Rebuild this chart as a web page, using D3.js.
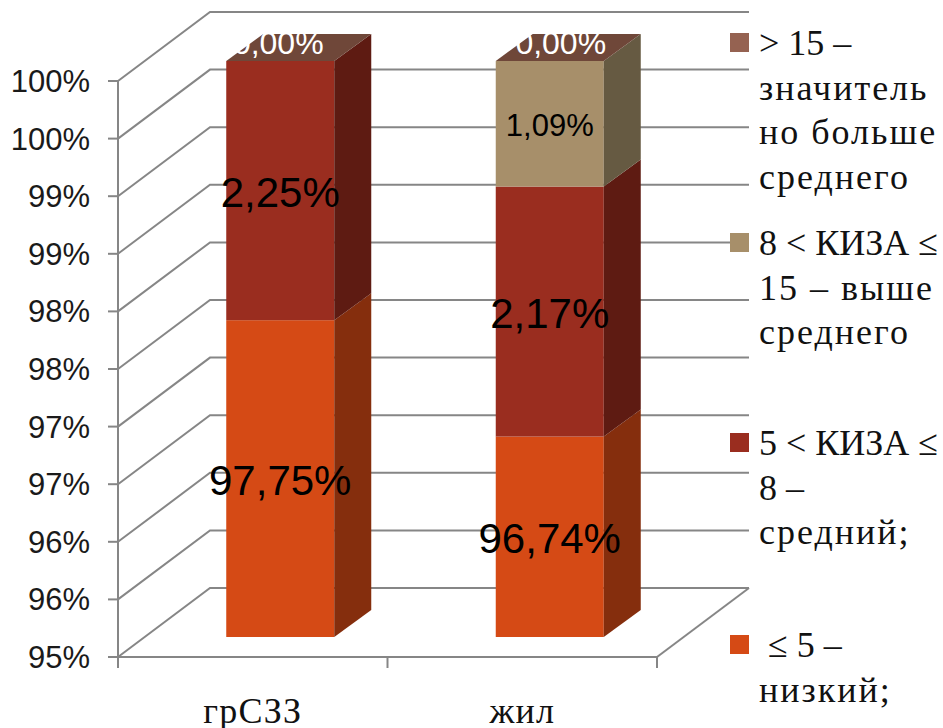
<!DOCTYPE html>
<html>
<head>
<meta charset="utf-8">
<script src="https://cdn.jsdelivr.net/npm/d3@7"></script>
<style>
  html, body { margin: 0; padding: 0; background: #fff; overflow: hidden; }
  .tick-label { font-family: "Liberation Sans", sans-serif; font-size: 31px; fill: #1a1a1a; }
  .serif { font-family: "Liberation Serif", serif; font-size: 36px; fill: #111; }
</style>
</head>
<body>
<div id="chart"></div>
<script>
// 3D stacked columns
let categories = ["грСЗЗ", "жил"];
let low = [97.75, 96.74];
let middle = [2.25, 2.17];
let high = [0, 1.09];
let veryHigh = [0, 0];

let tickValues = [95, 95.5, 96, 96.5, 97, 97.5, 98, 98.5, 99, 99.5, 100];
let tickLabels = ["95%", "96%", "96%", "97%", "97%", "98%", "98%", "99%", "99%", "100%", "100%"];

let seriesValues = [low, middle, high, veryHigh];
let seriesFront = ["#d54a15", "#9a2d1f", "#a78f6a", "#956251"];
let seriesSide = ["#852e0d", "#5e1b12", "#665a42", "#6f4739"];

// label text per series and category, "" when there is none
let barLabels = [
  ["97,75%", "96,74%"],
  ["2,25%", "2,17%"],
  ["", "1,09%"],
  ["0,00%", "0,00%"]
];

let legendLines = [
  ["> 15 –", "значитель", "но больше", "среднего"],
  ["8 < КИЗА ≤", "15 – выше", "среднего"],
  ["5 < КИЗА ≤", "8 –", "средний;"],
  [" ≤ 5 –", "низкий;"]
];

////////////////////////////////////////////////////////////////////////
// svg and scales

let width = 943;
let height = 728;

let svg = d3.select("#chart").append("svg")
  .attr("width", width).attr("height", height);

let axisLeft = 118, axisRight = 657;
let axisBottom = 657, axisTop = 81;
let wallDx = 92, wallDy = -69;     // floor depth
let barDx = 37, barDy = -27;       // bar depth
let barShiftY = -20;               // bars stand a little inside the floor

let xScale = d3.scaleBand().domain(categories).range([axisLeft, axisRight]);
let yScale = d3.scaleLinear().domain([95, 100]).range([axisBottom, axisTop]).clamp(true);
let barWidth = 108;
let zeroLabelShift = [-2, 11];     // the 0,00% labels sit off centre

function barX(i) {
  return xScale(categories[i]) + xScale.bandwidth() / 2 + 27.5 - barWidth / 2;
}
function barY(v) { return yScale(v) + barShiftY; }

////////////////////////////////////////////////////////////////////////
// walls and axis

let gridColor = "#868686";
let grid = svg.append("g").attr("fill", "none").attr("stroke", gridColor).attr("stroke-width", 2);

tickValues.forEach(function(t) {
  let y = yScale(t);
  grid.append("path").attr("d", d3.line()([
    [axisLeft, y],
    [axisLeft + wallDx, y + wallDy],
    [axisRight + wallDx, y + wallDy]
  ]));
  grid.append("line").attr("x1", axisLeft - 10).attr("x2", axisLeft).attr("y1", y).attr("y2", y);
});

grid.append("line").attr("x1", axisLeft).attr("x2", axisLeft)
  .attr("y1", axisTop).attr("y2", axisBottom + 11);
grid.append("line").attr("x1", axisLeft).attr("x2", axisRight)
  .attr("y1", axisBottom).attr("y2", axisBottom);
grid.append("line").attr("x1", axisRight).attr("x2", axisRight + wallDx)
  .attr("y1", axisBottom).attr("y2", axisBottom + wallDy);
[axisLeft + xScale.bandwidth(), axisRight].forEach(function(x) {
  grid.append("line").attr("x1", x).attr("x2", x)
    .attr("y1", axisBottom).attr("y2", axisBottom + 11);
});

svg.selectAll(".tick-label")
  .data(tickValues)
  .enter().append("text")
  .attr("class", "tick-label")
  .attr("x", 90)
  .attr("y", function(d) { return yScale(d) + 11; })
  .attr("text-anchor", "end")
  .text(function(d, i) { return tickLabels[i]; });

svg.selectAll(".cat-label")
  .data(categories)
  .enter().append("text")
  .attr("class", "serif cat-label")
  .attr("x", function(d) { return xScale(d) + xScale.bandwidth() / 2; })
  .attr("y", 723)
  .attr("text-anchor", "middle")
  .style("letter-spacing", "1.2px")
  .text(function(d) { return d; });

////////////////////////////////////////////////////////////////////////
// bars

let bars = svg.append("g");
let labels = svg.append("g");

categories.forEach(function(cat, i) {
  let x0 = barX(i), x1 = x0 + barWidth;
  let base = 0;
  seriesValues.forEach(function(values, s) {
    let top = base + values[i];
    // the value axis starts at 95, so the clamped scale cuts the low part off
    let yb = barY(base), yt = barY(top);
    if (yb > yt) {
      bars.append("rect")
        .attr("x", x0).attr("y", yt)
        .attr("width", barWidth).attr("height", yb - yt)
        .attr("fill", seriesFront[s]);
      bars.append("path")
        .attr("d", d3.line()([[x1, yb], [x1 + barDx, yb + barDy], [x1 + barDx, yt + barDy], [x1, yt]]))
        .attr("fill", seriesSide[s]);
    }
    if (barLabels[s][i]) {
      let big = s < 2;
      let zero = s == 3;
      labels.append("text")
        .attr("x", x0 + barWidth / 2 + (zero ? zeroLabelShift[i] : 0))
        .attr("y", zero ? yt - 7 : (yb + yt) / 2 + (big ? 16 : 12))
        .attr("text-anchor", "middle")
        .style("font-family", '"Liberation Sans", sans-serif')
        .style("font-size", big ? "42px" : zero ? "32px" : "31px")
        .attr("fill", zero ? "#fff" : "#000")
        .text(barLabels[s][i]);
    }
    base = top;
  });
  // top face belongs to the zero height series
  bars.append("path")
    .attr("d", d3.line()([[x0, barY(100)], [x0 + barDx, barY(100) + barDy], [x1 + barDx, barY(100) + barDy], [x1, barY(100)]]))
    .attr("fill", seriesSide[3]);
});

////////////////////////////////////////////////////////////////////////
// legend

let legendSquareX = 730, legendSquareSize = 19;
let legendFirstY = [43, 243, 443, 645];
let legendTextX = 759;
let legendColors = [seriesFront[3], seriesFront[2], seriesFront[1], seriesFront[0]];

legendLines.forEach(function(lines, k) {
  svg.append("rect")
    .attr("x", legendSquareX).attr("y", legendFirstY[k] - 10)
    .attr("width", legendSquareSize).attr("height", legendSquareSize)
    .attr("fill", legendColors[k]);
  lines.forEach(function(line, j) {
    svg.append("text")
      .attr("class", "serif")
      .attr("x", legendTextX)
      .attr("y", legendFirstY[k] + 12 + j * 44.5)
      .style("white-space", "pre")
      // lowercase cyrillic runs a bit narrow in this font
      .style("letter-spacing", /[а-я]{3}/.test(line) ? "2px" : "0px")
      .text(line);
  });
});
</script>
</body>
</html>
